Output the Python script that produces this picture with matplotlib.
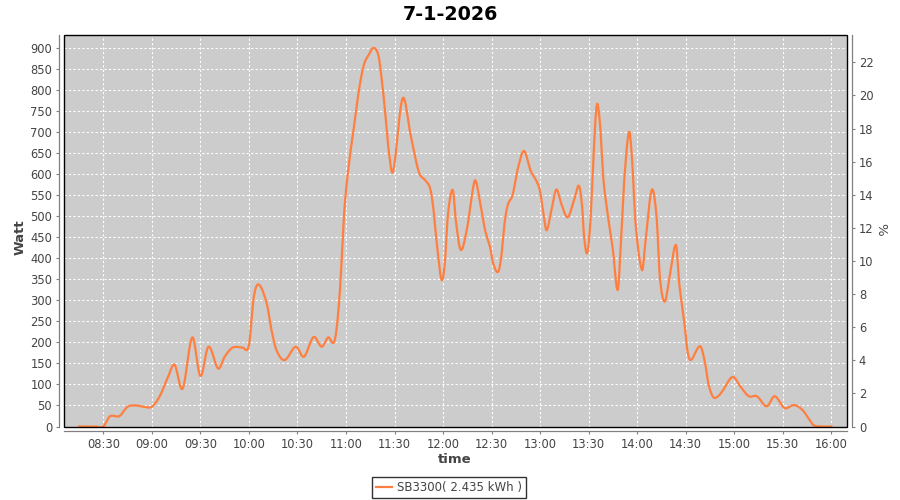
import numpy as np
import matplotlib
matplotlib.use("Agg")
import matplotlib.pyplot as plt
from matplotlib.patches import Rectangle
from matplotlib.ticker import FixedLocator, FuncFormatter

# ---- data ----
title = "7-1-2026"
series_name = "SB3300( 2.435 kWh )"
times = ["08:15", "08:20", "08:25", "08:30", "08:34", "08:40", "08:45", "08:50", "08:55", "09:00",
         "09:05", "09:10", "09:14", "09:19", "09:25", "09:30", "09:35", "09:41", "09:45", "09:50",
         "09:56", "10:00", "10:03", "10:06", "10:11", "10:14", "10:17", "10:22", "10:29", "10:34",
         "10:40", "10:45", "10:49", "10:53", "10:56", "10:59", "11:02", "11:05", "11:08", "11:11",
         "11:14", "11:17", "11:20", "11:22", "11:24", "11:26", "11:29", "11:35", "11:40", "11:45",
         "11:49", "11:52", "11:54", "11:56", "11:59", "12:01", "12:03", "12:06", "12:08", "12:11",
         "12:15", "12:18", "12:20", "12:23", "12:26", "12:29", "12:31", "12:34", "12:36", "12:38",
         "12:40", "12:43", "12:46", "12:50", "12:54", "12:58", "13:00", "13:02", "13:04", "13:07",
         "13:10", "13:13", "13:17", "13:21", "13:24", "13:26", "13:27", "13:29", "13:31", "13:33",
         "13:35", "13:37", "13:39", "13:42", "13:45", "13:48", "13:50", "13:52", "13:55", "13:57",
         "13:59", "14:03", "14:05", "14:09", "14:12", "14:14", "14:17", "14:20", "14:24", "14:26",
         "14:29", "14:31", "14:33", "14:39", "14:42", "14:44", "14:47", "14:50", "14:53", "14:59",
         "15:04", "15:09", "15:14", "15:20", "15:25", "15:31", "15:37", "15:42", "15:46", "15:49",
         "15:55", "16:00"]
watt = [0, 0, 0, 0, 24, 25, 47, 50, 47, 47,
        73, 118, 147, 90, 212, 120, 190, 138, 166, 188,
        188, 193, 308, 338, 293, 229, 182, 158, 190, 166,
        213, 190, 212, 205, 309, 515, 630, 715, 800, 860,
        884, 901, 884, 829, 757, 670, 606, 781, 693, 606,
        586, 567, 519, 440, 350, 384, 503, 563, 487, 420,
        475, 555, 586, 531, 467, 428, 388, 368, 404, 483,
        527, 551, 610, 656, 610, 582, 559, 507, 467, 515,
        564, 531, 498, 539, 573, 523, 460, 412, 483, 642,
        765, 721, 594, 499, 420, 325, 444, 586, 701, 626,
        483, 372, 436, 563, 499, 356, 297, 356, 432, 340,
        253, 182, 158, 191, 150, 102, 70, 72, 86, 118,
        94, 72, 72, 48, 72, 44, 51, 40, 19, 3,
        0, 0]
x_ticks = ["08:30", "09:00", "09:30", "10:00", "10:30", "11:00", "11:30", "12:00",
           "12:30", "13:00", "13:30", "14:00", "14:30", "15:00", "15:30", "16:00"]
watt_ticks = list(range(0, 901, 50))
pct_ticks = list(range(0, 23, 2))


def to_min(s):
    h, m = s.split(":")
    return int(h) * 60 + int(m)


def smooth_line(x, y, n=20):
    """Render a smooth (cardinal cubic Hermite) line through the points."""
    x = np.asarray(x, float)
    y = np.asarray(y, float)
    h = np.diff(x)
    d = np.diff(y) / h
    m = np.zeros_like(y)
    m[0], m[-1] = d[0], d[-1]
    m[1:-1] = (y[2:] - y[:-2]) / (x[2:] - x[:-2])
    xs, ys = [], []
    for k in range(len(x) - 1):
        t = np.linspace(0, 1, n, endpoint=False)
        h00 = 2 * t**3 - 3 * t**2 + 1
        h10 = t**3 - 2 * t**2 + t
        h01 = -2 * t**3 + 3 * t**2
        h11 = t**3 - t**2
        xs.append(x[k] + t * h[k])
        ys.append(h00 * y[k] + h10 * h[k] * m[k] + h01 * y[k + 1] + h11 * h[k] * m[k + 1])
    xs.append([x[-1]])
    ys.append([y[-1]])
    return np.concatenate(xs), np.concatenate(ys)


W, H = 900, 500
fig = plt.figure(figsize=(9, 5), dpi=100)
fig.patch.set_facecolor("white")

L, R, T, B = 64, 847, 35, 426.5
ax = fig.add_axes([L / W, 1 - B / H, (R - L) / W, (B - T) / H])
ax.set_facecolor("#cccccc")

tx = [to_min(t) for t in times]
sx, sy = smooth_line(tx, watt)
line, = ax.plot(sx, sy, color="#ff7f40", lw=1.6, label=series_name, zorder=3,
                solid_joinstyle="round")

ax.set_xlim(to_min("08:05") + 0.7, to_min("16:09") + 0.7)
ax.set_ylim(0, 931.7)

ax.xaxis.set_major_locator(FixedLocator([to_min(t) for t in x_ticks]))
ax.xaxis.set_major_formatter(FuncFormatter(lambda v, p: "%02d:%02d" % (int(v) // 60, int(v) % 60)))
ax.yaxis.set_major_locator(FixedLocator(watt_ticks))

ax.grid(True, color="white", linestyle=(0, (2, 2)), linewidth=0.8, zorder=1)
ax.set_axisbelow(True)

gray = "#808080"
tick_color = "#444444"
for side in ["top", "right"]:
    ax.spines[side].set_visible(False)
for side in ["left", "bottom"]:
    ax.spines[side].set_position(("outward", 3.5))
    ax.spines[side].set_color(gray)
    ax.spines[side].set_linewidth(0.9)
ax.tick_params(axis="both", direction="out", length=2.5, width=0.8, color=gray,
               labelsize=8.3, labelcolor=tick_color, pad=2.5)

ax2 = ax.twinx()
ax2.set_ylim(0, 23.65)
ax2.yaxis.set_major_locator(FixedLocator(pct_ticks))
for side in ["top", "left", "bottom"]:
    ax2.spines[side].set_visible(False)
ax2.spines["right"].set_position(("outward", 3.5))
ax2.spines["right"].set_color(gray)
ax2.spines["right"].set_linewidth(0.9)
ax2.tick_params(axis="y", direction="out", length=2.5, width=0.8, color=gray,
                labelsize=8.3, labelcolor=tick_color, pad=2.5)

# plot border
ax.add_patch(Rectangle((0, 0), 1, 1, transform=ax.transAxes, fill=False,
                       edgecolor="black", linewidth=1.0, zorder=5, clip_on=False))

fig.text(450 / W, 1 - 14 / H, title, ha="center", va="center",
         fontsize=13.8, fontweight="bold", color="black")
fig.text(20.5 / W, 1 - 237 / H, "Watt", ha="center", va="center", rotation=90,
         fontsize=9.5, fontweight="bold", color="#444444")
fig.text(455 / W, 1 - 459.5 / H, "time", ha="center", va="center",
         fontsize=9.5, fontweight="bold", color="#444444")
fig.text(880.5 / W, 1 - 229 / H, "%", ha="center", va="center", rotation=270,
         fontsize=9.5, color="#444444")

leg = ax.legend(handles=[line], loc="center", bbox_to_anchor=(449 / W, 1 - 487.5 / H),
                bbox_transform=fig.transFigure, frameon=True, fancybox=False,
                edgecolor="black", fontsize=8.5, handlelength=1.4, handletextpad=0.4,
                borderpad=0.3, borderaxespad=0)
leg.get_frame().set_linewidth(1.0)
for txt in leg.get_texts():
    txt.set_color("#444444")

fig.savefig("out.png", dpi=100)
